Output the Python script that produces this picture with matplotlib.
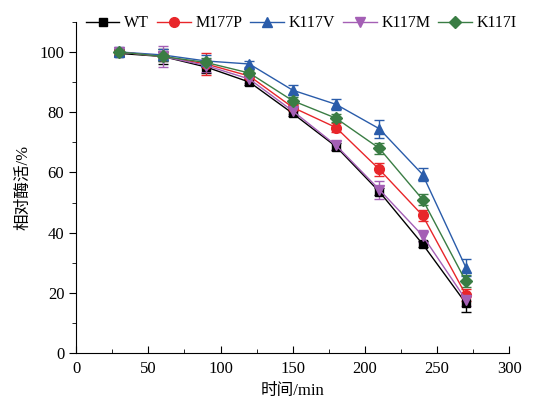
import matplotlib
matplotlib.use("Agg")
import matplotlib.pyplot as plt
from matplotlib.lines import Line2D
from matplotlib.ticker import MultipleLocator

plt.rcParams["font.family"] = ["Liberation Serif", "Noto Sans CJK SC"]

time_min = [30, 60, 90, 120, 150, 180, 210, 240, 270]
labels = ["WT", "M177P", "K117V", "K117M", "K117I"]
wt = [99.5, 98.5, 95.0, 90.0, 79.6, 68.6, 53.6, 36.2, 16.5]
m177p = [100.0, 98.5, 96.0, 92.0, 81.6, 74.9, 61.0, 45.7, 19.3]
k117v = [100.0, 99.0, 97.0, 96.0, 87.3, 82.6, 74.5, 59.3, 28.4]
k117m = [100.0, 98.5, 95.5, 91.0, 80.4, 69.0, 54.3, 39.0, 17.7]
k117i = [100.0, 98.5, 96.5, 93.0, 83.8, 78.0, 68.0, 51.0, 23.8]
wt_err = [1.0, 2.5, 2.0, 1.0, 1.0, 1.2, 1.2, 1.0, 3.0]
m177p_err = [1.0, 1.5, 3.5, 1.0, 1.2, 1.5, 2.2, 1.7, 2.0]
k117v_err = [1.5, 2.0, 2.0, 1.0, 1.7, 1.8, 3.0, 2.0, 2.9]
k117m_err = [1.0, 3.5, 2.0, 1.2, 1.0, 1.5, 3.0, 2.0, 2.0]
k117i_err = [1.0, 1.5, 1.5, 1.0, 1.2, 1.4, 1.8, 1.7, 2.0]

series = [wt, m177p, k117v, k117m, k117i]
errors = [wt_err, m177p_err, k117v_err, k117m_err, k117i_err]
colors = ["#000000", "#e8262a", "#2a5caa", "#a45fb5", "#3a7d44"]
markers = ["s", "o", "^", "v", "D"]
msizes = [6, 7, 7.5, 7.5, 6.5]

fig = plt.figure(figsize=(5.4, 4.12), dpi=100)
ax = fig.add_axes([0.141, 0.143, 0.802, 0.804])

handles = []
for y, e, c, m, ms, lab in zip(series, errors, colors, markers, msizes, labels):
    ax.errorbar(time_min, y, yerr=e, color=c, marker=m, markersize=ms, lw=1.0,
                capsize=3.5, elinewidth=1.0, capthick=1.0)
    handles.append(Line2D([], [], color=c, marker=m, markersize=ms, lw=1.0, label=lab))

ax.set_xlim(0, 300)
ax.set_ylim(0, 110)
ax.xaxis.set_major_locator(MultipleLocator(50))
ax.xaxis.set_minor_locator(MultipleLocator(25))
ax.yaxis.set_major_locator(MultipleLocator(20))
ax.yaxis.set_minor_locator(MultipleLocator(10))
ax.set_yticks([0, 20, 40, 60, 80, 100])
ax.spines["top"].set_visible(False)
ax.spines["right"].set_visible(False)
ax.tick_params(axis="x", which="both", direction="in", labelsize=12, pad=6)
ax.tick_params(axis="x", which="major", length=5)
ax.tick_params(axis="x", which="minor", length=3)
ax.tick_params(axis="y", which="both", direction="out", labelsize=12)
ax.tick_params(axis="y", which="major", length=5)
ax.tick_params(axis="y", which="minor", length=3)

ax.set_xlabel("时间/min", fontsize=12, labelpad=4)
ax.set_ylabel("相对酶活/%", fontsize=12, labelpad=6)

ax.legend(handles=handles, loc="center", bbox_to_anchor=(0.52, 0.995), ncol=5,
          frameon=False, fontsize=11.5, handlelength=2.1, handletextpad=0.3,
          columnspacing=0.5, borderaxespad=0)

fig.savefig("out.png", dpi=100)
